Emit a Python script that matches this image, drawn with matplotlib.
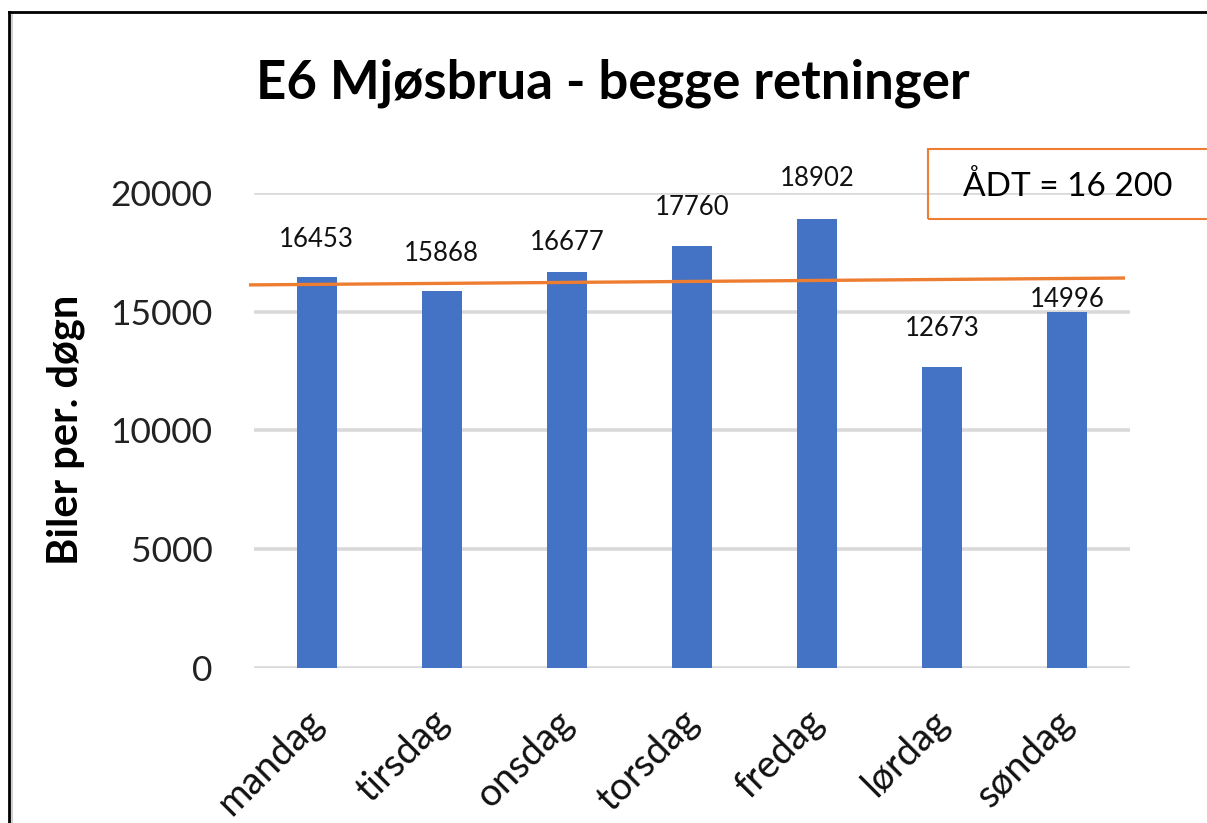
import matplotlib
matplotlib.use("Agg")
import matplotlib.pyplot as plt
from matplotlib.lines import Line2D
from matplotlib.patches import Rectangle
import matplotlib.transforms as mtransforms

# ---- data ----
days = ["mandag", "tirsdag", "onsdag", "torsdag", "fredag", "lørdag", "søndag"]
counts = [16453, 15868, 16677, 17760, 18902, 12673, 14996]
trend_x = [-0.54, 6.46]
trend_y = [16130, 16420]
yticks = [0, 5000, 10000, 15000, 20000]
title = "E6 Mjøsbrua - begge retninger"
ylabel = "Biler per. døgn"
adt_text = "ÅDT = 16 200"

# label offsets (points) above bar tops
label_offsets = [27, 27, 21, 28, 29, 28, 9]

FONT = "Lato"
plt.rcParams["font.family"] = [FONT, "DejaVu Sans"]

W, H = 1207, 823
fig = plt.figure(figsize=(W / 100, H / 100), dpi=100)
fig.patch.set_facecolor("white")

ax = fig.add_axes([254 / W, 1 - 668 / H, (1130 - 254) / W, (668 - 193) / H])
x = list(range(len(days)))
ax.bar(x, counts, width=0.32, color="#4472C4", zorder=2)
ax.set_xlim(-0.5, len(days) - 0.5)
ax.set_ylim(0, 20000)
ax.set_yticks(yticks)
ax.set_yticklabels([str(v) for v in yticks], fontsize=25.5, color="#222222")
ax.tick_params(axis="y", length=0, pad=30)
ax.tick_params(axis="x", length=0, pad=6)
ax.set_xticks(x)
labels = ax.set_xticklabels(days, fontsize=27.5, rotation=45, ha="right",
                            rotation_mode="anchor", color="#111111")
offset = mtransforms.ScaledTranslation(-12 / 100, -27 / 100, fig.dpi_scale_trans)
for lab in labels:
    lab.set_transform(lab.get_transform() + offset)

for s in ax.spines.values():
    s.set_visible(False)
ax.yaxis.grid(True, color="#d9d9d9", linewidth=2.6, zorder=0)
ax.set_axisbelow(True)

# trend line
ax.plot(trend_x, trend_y, color="#ED7D31", linewidth=2.4, zorder=3, clip_on=False,
        solid_capstyle="butt")

# data labels
for xi, v, off in zip(x, counts, label_offsets):
    ax.annotate(str(v), (xi, v), xytext=(0, off), textcoords="offset points",
                ha="center", va="center", fontsize=18.5, color="#111111",
                annotation_clip=False, zorder=4)

# title
fig.text(613 / W, 1 - 98 / H, title, ha="center", va="baseline",
         fontsize=38, fontweight="bold", color="black")

# y label
fig.text(66 / W, 1 - 430 / H, ylabel, rotation=90, ha="center", va="center",
         fontsize=30, fontweight="bold", color="black")

# ADT box
fig.patches.append(Rectangle((928 / W, 1 - 219 / H), (1300 - 928) / W, 70 / H,
                             transform=fig.transFigure, fill=False,
                             edgecolor="#ED7D31", linewidth=1.5, clip_on=False))
fig.text(963 / W, 1 - 187 / H, adt_text, ha="left", va="center",
         fontsize=24, color="black")

# outer border (left + top)
fig.lines.append(Line2D([11 / W, 11 / W], [0, 1 - 12 / H], transform=fig.transFigure,
                        color="#d0d0d0", linewidth=2.2))
fig.lines.append(Line2D([8.5 / W, 8.5 / W], [0, 1 - 11.5 / H], transform=fig.transFigure,
                        color="black", linewidth=2.0, solid_capstyle="projecting"))
fig.lines.append(Line2D([8.5 / W, 1.01], [1 - 11.5 / H, 1 - 11.5 / H], transform=fig.transFigure,
                        color="black", linewidth=2.0, solid_capstyle="projecting"))

fig.savefig("out.png", dpi=100)
